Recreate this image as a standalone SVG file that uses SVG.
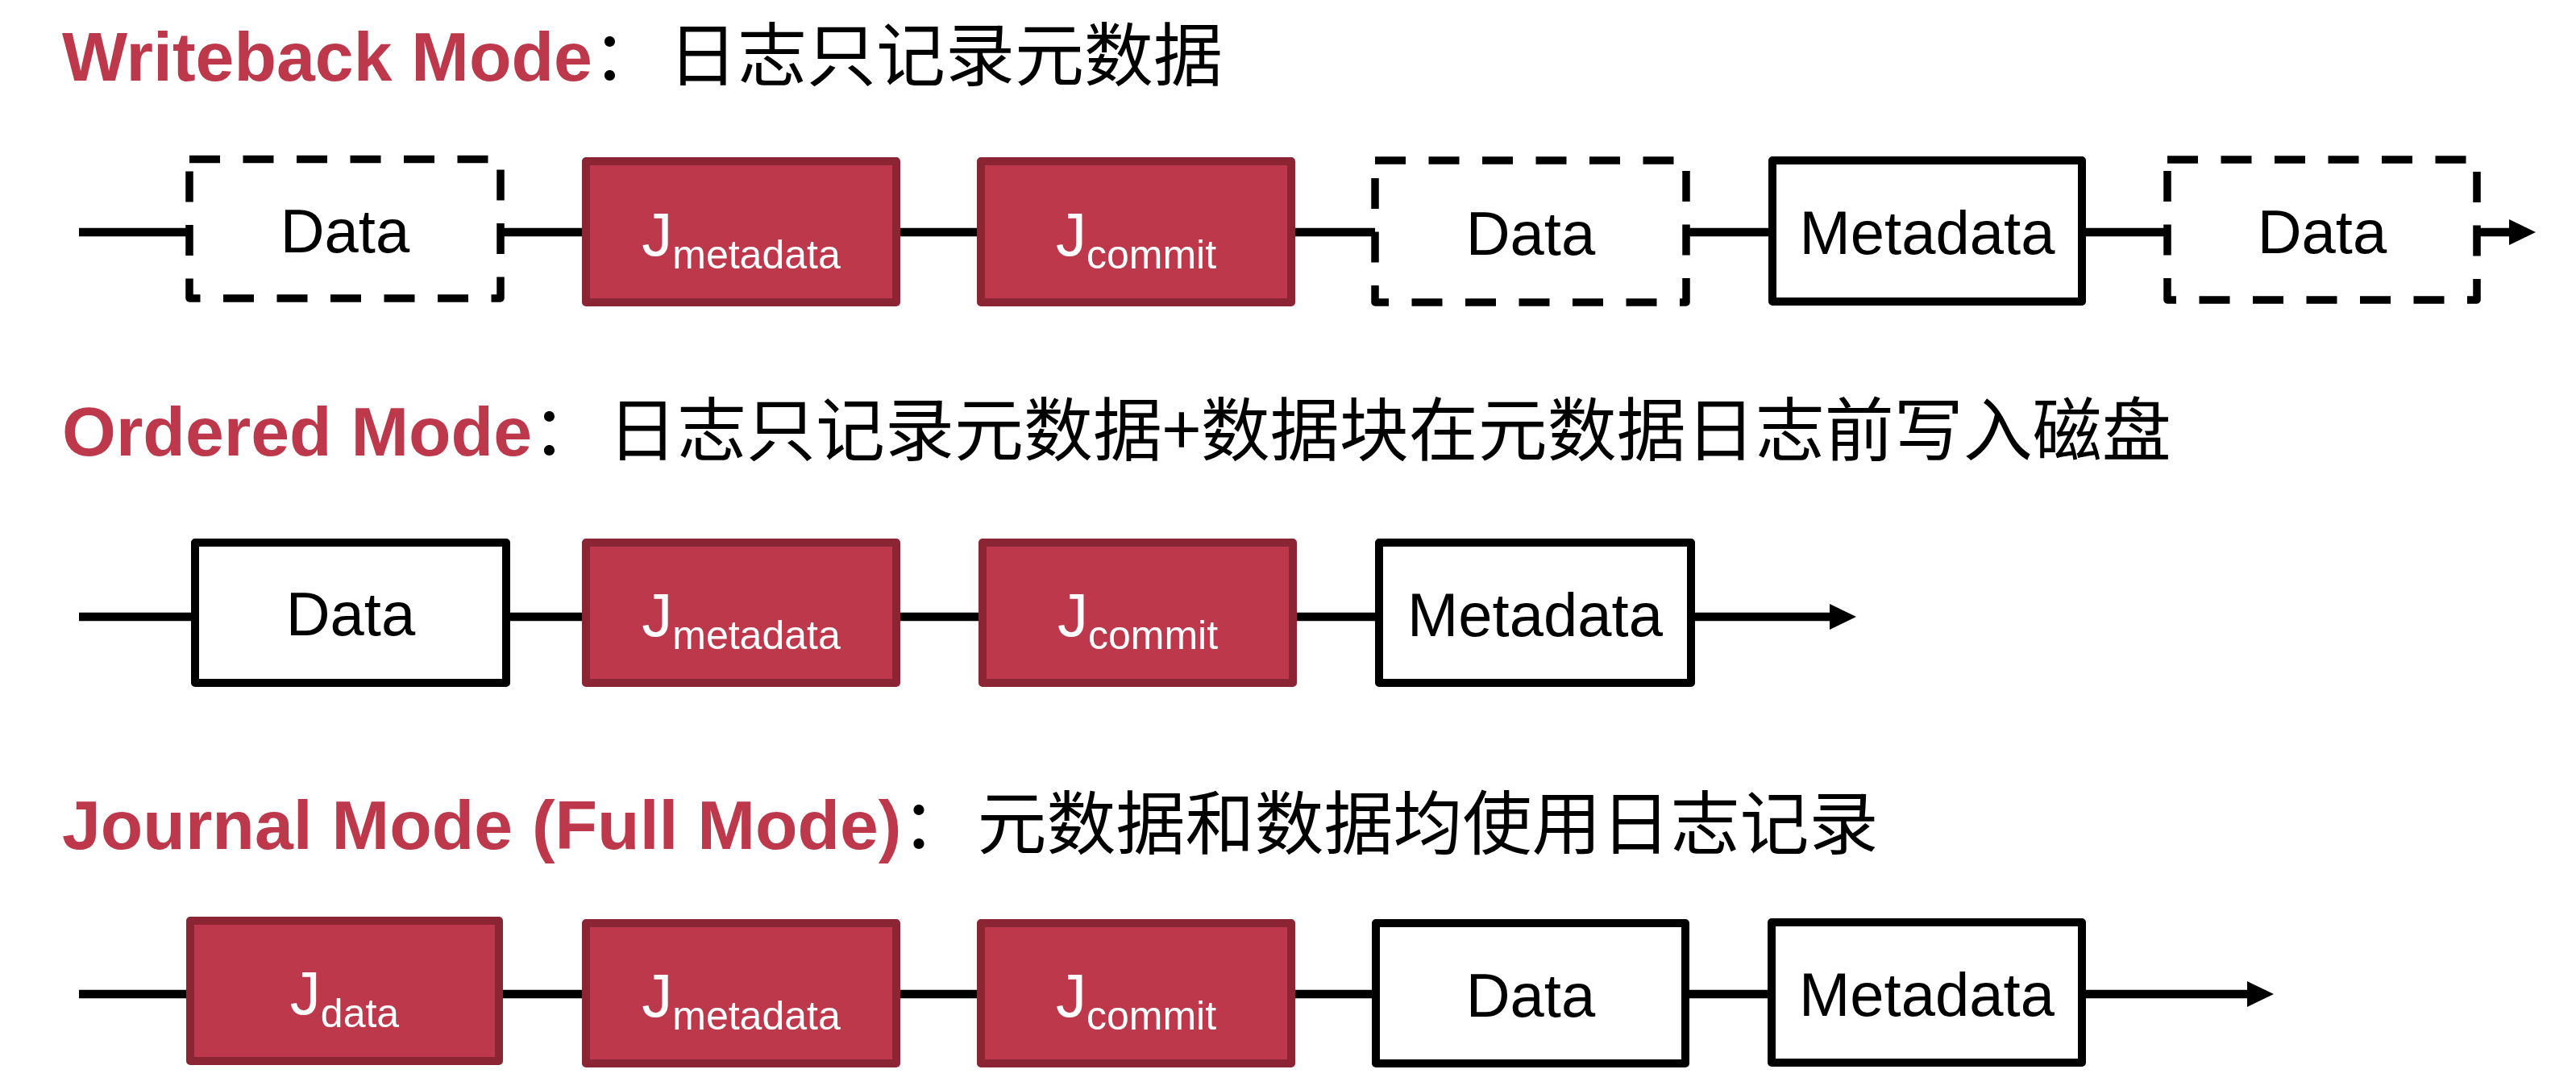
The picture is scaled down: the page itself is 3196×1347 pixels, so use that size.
<svg xmlns="http://www.w3.org/2000/svg" width="3196" height="1347" viewBox="0 0 3196 1347">
<style>
.bg{fill:#ffffff}
.title{font-family:"Liberation Sans",Arial,sans-serif;font-weight:bold;font-size:86px;fill:#BE384B}
.zh{font-family:"Noto Sans CJK SC",sans-serif;font-weight:normal;fill:#000000}
.conn{stroke:#000;stroke-width:10.5;fill:none}
.dash{fill:#fff;stroke:#000;stroke-width:9.5;stroke-dasharray:38 28.5;stroke-linejoin:round}
.solid{fill:#fff;stroke:#000;stroke-width:10;stroke-linejoin:round}
.jbox{fill:#BE384B;stroke:#8B2433;stroke-width:10;stroke-linejoin:round}
.lbl{font-family:"Liberation Sans",Arial,sans-serif;font-size:76px;text-anchor:middle;fill:#000}
.jl{font-family:"Liberation Sans",Arial,sans-serif;font-size:76px;text-anchor:middle;fill:#fff}
.sub{font-size:50px}
</style>
<defs>
<marker id="ah" markerUnits="userSpaceOnUse" markerWidth="34" markerHeight="32" refX="0" refY="16" orient="auto" viewBox="0 0 34 32">
<path d="M0,0 L33,16 L0,32 z" fill="#000"/>
</marker>
</defs>
<rect class="bg" x="0" y="0" width="3196" height="1347"/>

<g id="titles">
<text id="title-writeback" class="title" x="77" y="100">Writeback Mode<tspan class="zh">：</tspan><tspan class="zh" dx="8">日志只记录元数据</tspan></text>
<text id="title-ordered" class="title" x="77" y="565">Ordered Mode<tspan class="zh">：</tspan><tspan class="zh" dx="8">日志只记录元数据+数据块在元数据日志前写入磁盘</tspan></text>
<text id="title-journal" class="title" x="77" y="1053">Journal Mode (Full Mode)<tspan class="zh">：</tspan><tspan class="zh" dx="8">元数据和数据均使用日志记录</tspan></text>
</g>

<g id="connectors">
<line class="conn" x1="98" y1="288" x2="235" y2="288"/>
<line class="conn" x1="621" y1="288" x2="727" y2="288"/>
<line class="conn" x1="1112" y1="288" x2="1217" y2="288"/>
<line class="conn" x1="1602" y1="288" x2="1706" y2="288"/>
<line class="conn" x1="2092" y1="288" x2="2199" y2="288"/>
<line class="conn" x1="2583" y1="288" x2="2689" y2="288"/>
<line class="conn" x1="3073" y1="288" x2="3113" y2="288" marker-end="url(#ah)"/>

<line class="conn" x1="98" y1="765" x2="242" y2="765"/>
<line class="conn" x1="628" y1="765" x2="727" y2="765"/>
<line class="conn" x1="1112" y1="765" x2="1219" y2="765"/>
<line class="conn" x1="1604" y1="765" x2="1711" y2="765"/>
<line class="conn" x1="2098" y1="765" x2="2270" y2="765" marker-end="url(#ah)"/>

<line class="conn" x1="98" y1="1233" x2="236" y2="1233"/>
<line class="conn" x1="619" y1="1233" x2="727" y2="1233"/>
<line class="conn" x1="1112" y1="1233" x2="1217" y2="1233"/>
<line class="conn" x1="1602" y1="1233" x2="1707" y2="1233"/>
<line class="conn" x1="2091" y1="1233" x2="2198" y2="1233"/>
<line class="conn" x1="2583" y1="1233" x2="2788" y2="1233" marker-end="url(#ah)"/>
</g>

<!-- Row 1: Writeback -->
<g id="wb-data1"><rect class="dash" x="235" y="197.5" width="386" height="172.5"/><text class="lbl" x="428" y="313">Data</text></g>
<g id="wb-jmeta"><rect class="jbox" x="727" y="200" width="385" height="175"/><text class="jl" x="919.5" y="317">J<tspan class="sub" dy="16">metadata</tspan></text></g>
<g id="wb-jcommit"><rect class="jbox" x="1217" y="200" width="385" height="175"/><text class="jl" x="1409.5" y="317">J<tspan class="sub" dy="16">commit</tspan></text></g>
<g id="wb-data2"><rect class="dash" x="1706" y="199" width="386" height="176"/><text class="lbl" x="1899" y="316">Data</text></g>
<g id="wb-meta"><rect class="solid" x="2199" y="199" width="384" height="175"/><text class="lbl" x="2391" y="315">Metadata</text></g>
<g id="wb-data3"><rect class="dash" x="2689" y="198" width="384" height="174"/><text class="lbl" x="2881" y="314">Data</text></g>

<!-- Row 2: Ordered -->
<g id="or-data"><rect class="solid" x="242" y="673" width="386" height="174"/><text class="lbl" x="435" y="788">Data</text></g>
<g id="or-jmeta"><rect class="jbox" x="727" y="673" width="385" height="174"/><text class="jl" x="919.5" y="789">J<tspan class="sub" dy="16">metadata</tspan></text></g>
<g id="or-jcommit"><rect class="jbox" x="1219" y="673" width="385" height="174"/><text class="jl" x="1411.5" y="789">J<tspan class="sub" dy="16">commit</tspan></text></g>
<g id="or-meta"><rect class="solid" x="1711" y="673" width="387" height="174"/><text class="lbl" x="1904.5" y="789">Metadata</text></g>

<!-- Row 3: Journal -->
<g id="jn-jdata"><rect class="jbox" x="236" y="1142" width="383" height="174"/><text class="jl" x="427.5" y="1258">J<tspan class="sub" dy="16">data</tspan></text></g>
<g id="jn-jmeta"><rect class="jbox" x="727" y="1145" width="385" height="174"/><text class="jl" x="919.5" y="1261">J<tspan class="sub" dy="16">metadata</tspan></text></g>
<g id="jn-jcommit"><rect class="jbox" x="1217" y="1145" width="385" height="174"/><text class="jl" x="1409.5" y="1261">J<tspan class="sub" dy="16">commit</tspan></text></g>
<g id="jn-data"><rect class="solid" x="1707" y="1145" width="384" height="174"/><text class="lbl" x="1899" y="1261">Data</text></g>
<g id="jn-meta"><rect class="solid" x="2198" y="1144" width="385" height="174"/><text class="lbl" x="2390.5" y="1260">Metadata</text></g>
</svg>
